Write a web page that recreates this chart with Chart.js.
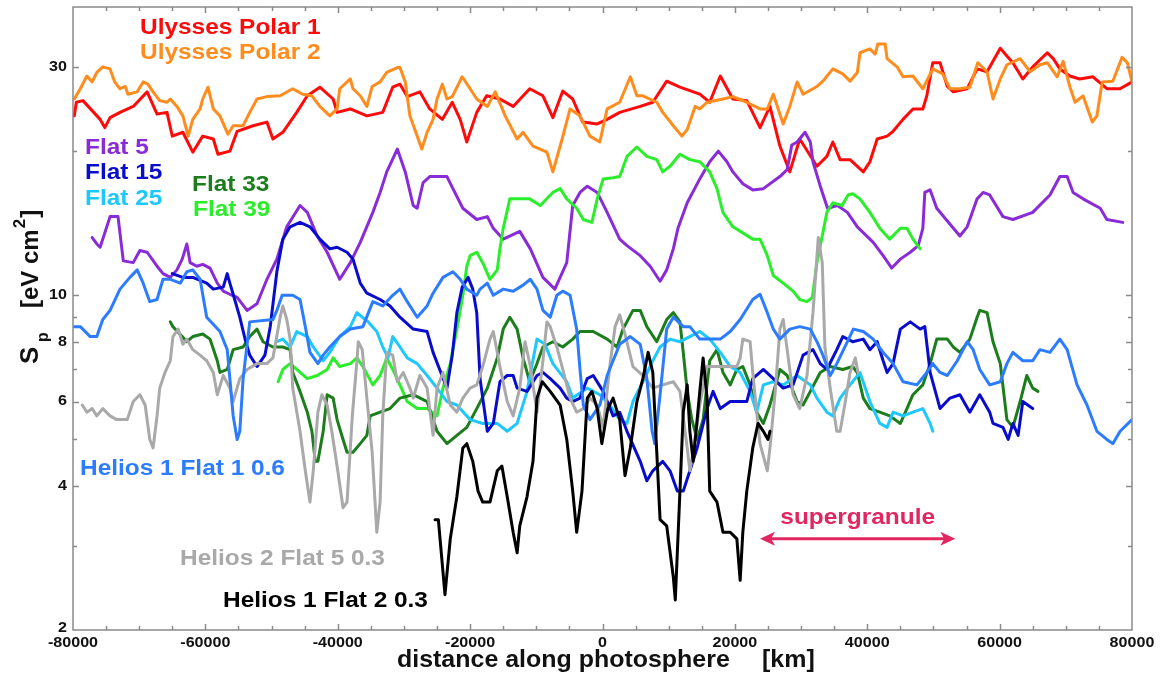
<!DOCTYPE html>
<html>
<head>
<meta charset="utf-8">
<script src="https://cdn.jsdelivr.net/npm/chart.js@4.4.1/dist/chart.umd.min.js"></script>
<style>
  html, body { margin: 0; background: #fff; }
  canvas { display: block; }
</style>
</head>
<body>
<canvas id="sp" width="1166" height="682"></canvas>
<script>
// distance along photosphere [km] and S_p [eV cm^2]

const ulysses1Km = [-79800,-79500,-78500,-75900,-75200,-74400,-72900,-70900,-68800,-67300,
  -65800,-65000,-63400,-61900,-60400,-58800,-58100,-56300,-55200,-52800,
  -50700,-49800,-48300,-46200,-44600,-42700,-40700,-40100,-38100,-35600,
  -33200,-31700,-30600,-29500,-27600,-26100,-24200,-22700,-21500,-20500,
  -19000,-17500,-15500,-13500,-11000,-9000,-7500,-6000,-4500,-3000,
  -800,700,2600,5700,7600,9700,11700,14700,16200,17800,
  19700,21800,23800,25300,26800,28300,29800,32400,33900,34800,
  35900,37400,39400,40400,41500,43000,43900,45400,46900,48400,
  49000,49900,51000,52100,53000,55100,56600,58100,60100,61100,
  62000,63500,65000,67200,68100,69100,70600,72100,74100,76200,
  78200,80000];
const ulysses1Sp = [23.7,25.3,25.5,23.3,22.4,23.5,24.1,24.8,26.6,23.9,
  24.1,21.5,21.9,19.9,21.5,21.2,19.7,20.0,22.0,22.6,
  23.0,21.2,21.9,24.1,26.1,27.2,25.7,24.1,24.5,23.7,
  24.1,27.2,27.6,26.0,26.6,24.5,23.3,25.3,23.3,20.9,
  24.1,26.1,25.7,24.8,27.0,26.1,23.5,26.7,25.7,23.0,
  22.8,23.3,24.1,24.8,25.3,28.0,27.2,26.3,25.3,28.7,
  25.7,25.5,22.4,24.8,20.5,18.1,21.2,18.6,19.5,20.9,
  19.2,19.2,18.1,19.0,21.2,21.5,22.0,23.3,24.5,24.5,
  26.1,30.6,30.6,27.3,26.6,27.0,29.7,29.3,32.8,31.6,
  30.6,28.3,30.0,32.1,31.2,29.7,28.7,28.3,28.6,27.0,
  27.0,27.9];

const ulysses2Km = [-79800,-78900,-77900,-77100,-76400,-75500,-74400,-73700,-72900,-72100,
  -71700,-70300,-69400,-68700,-67900,-66900,-65800,-65300,-64300,-63400,
  -62600,-61900,-60800,-60400,-59600,-58800,-57800,-56600,-55800,-54300,
  -53300,-52200,-50700,-48700,-46800,-45300,-43900,-42700,-41200,-40100,
  -39700,-38100,-37700,-36600,-35600,-34800,-33600,-32600,-31000,-30600,
  -29800,-29100,-27300,-26500,-25600,-25000,-24200,-23500,-22700,-21200,
  -20000,-19000,-17400,-16200,-14700,-12900,-12000,-10500,-8400,-7500,
  -6100,-4900,-3400,-1900,-400,700,2600,4200,5200,6100,
  8200,9100,10700,12000,12800,14000,14700,15800,18200,19700,
  21800,23800,24900,25800,27300,28300,29400,30300,32400,33300,
  34800,36300,37400,38500,38900,40400,41200,41600,42700,43000,
  44500,45400,46900,48400,49900,51400,52500,54000,55500,56700,
  58100,59000,60100,61100,63100,64600,66100,67200,68700,69600,
  70600,71400,72600,74000,74700,75500,77100,78500,79300,80000];
const ulysses2Sp = [25.7,27.0,28.7,27.9,29.2,30.0,29.7,27.9,27.0,27.3,
  26.3,26.6,27.9,27.6,26.6,25.5,25.3,25.7,24.8,23.7,
  21.5,23.3,24.5,25.7,27.2,24.5,23.7,21.7,22.6,22.6,
  24.1,25.7,26.0,26.1,27.0,26.3,26.1,24.8,23.7,24.5,
  27.0,28.3,27.0,26.1,24.8,27.3,27.9,29.2,29.9,29.9,
  27.9,23.7,20.2,21.9,23.3,25.7,27.6,25.7,26.0,28.6,
  27.0,25.7,24.8,26.6,23.7,21.2,21.9,20.5,19.9,18.1,
  21.2,24.5,23.7,21.5,20.9,24.5,25.3,28.6,26.1,26.1,
  25.3,24.1,22.6,21.5,22.2,24.8,24.5,25.3,25.7,26.0,
  25.3,24.5,24.5,26.3,22.8,24.8,27.9,26.3,27.3,28.0,
  29.7,29.0,28.0,29.2,32.1,32.7,31.9,33.5,33.5,31.2,
  30.0,28.6,28.7,27.0,29.7,29.0,27.0,27.0,27.2,30.6,
  29.3,25.7,28.3,30.3,31.2,29.3,30.3,30.6,28.6,30.8,
  27.3,25.3,26.1,23.0,23.7,27.9,28.0,31.4,30.6,27.9];

const flat5Km = [-77100,-76400,-75900,-74400,-73200,-72400,-70900,-69900,-68800,-67300,
  -66400,-65300,-64300,-63500,-62800,-62300,-61300,-60400,-59300,-58200,
  -57300,-56300,-55200,-53700,-52200,-50700,-49200,-47700,-45700,-44600,
  -43100,-41600,-39700,-38100,-36600,-34700,-33600,-32600,-31000,-29800,
  -28600,-28000,-27100,-26100,-23500,-22600,-21100,-19000,-17400,-16500,
  -15000,-12500,-10900,-9000,-7200,-5400,-4500,-3400,-2300,-800,
  700,2600,3700,5700,7200,8700,9700,10700,11400,12800,
  14700,16200,17500,18800,19700,21200,22700,24300,26800,27900,
  28600,29400,30600,31400,31800,32900,34000,35500,37000,38500,
  40900,42400,43700,45000,46500,47700,48400,48700,49500,50500,
  52100,54000,55100,56600,57500,58500,60500,62000,65000,67600,
  69100,70200,71100,72600,75200,76200,78600];
const flat5Sp = [13.2,12.8,12.6,14.6,14.6,11.8,11.7,12.4,12.3,11.5,
  11.1,10.9,11.3,11.9,12.8,11.7,11.5,11.6,11.4,10.6,
  10.2,10.05,9.9,9.3,9.6,10.8,11.9,13.9,15.4,14.9,
  13.3,12.3,10.8,11.7,12.9,14.9,16.4,18.1,20.2,18.1,
  15.4,15.2,17.2,17.7,17.7,16.7,15.2,14.4,14.6,13.8,
  13.1,13.6,12.5,10.9,10.3,11.7,15.4,16.4,16.9,16.4,
  14.9,13.1,12.7,12.1,11.5,10.7,11.3,12.5,13.8,15.6,
  17.5,19.0,20.0,19.0,18.1,17.1,16.6,16.7,17.7,18.3,
  20.6,20.9,21.9,20.9,19.0,16.9,15.2,15.4,14.9,13.9,
  12.9,12.1,11.4,11.9,12.3,12.7,13.8,16.4,16.6,15.2,
  14.3,13.3,13.9,15.9,16.4,16.2,14.6,14.4,14.9,16.2,
  17.7,17.7,16.4,15.9,15.2,14.4,14.2];

const flat15Km = [-65000,-63400,-61900,-59800,-58800,-57300,-56700,-56300,-55800,-54800,
  -54000,-53300,-52200,-51000,-50200,-49200,-48300,-47200,-45700,-44200,
  -42700,-41200,-40100,-38600,-37700,-36600,-35600,-33600,-32100,-30600,
  -28600,-26500,-25600,-24600,-23500,-22700,-22000,-21200,-20300,-19600,
  -19000,-18500,-17400,-16500,-15500,-14400,-13500,-12900,-11400,-9900,
  -9000,-7900,-6400,-5400,-4500,-3400,-2300,-1400,100,1600,
  2600,3700,5700,6700,7600,9100,10200,11300,12200,13200,
  14300,15800,16700,17800,19300,21800,22700,24300,25800,27300,
  28800,30300,31800,32900,33900,35400,36300,37800,39400,40400,
  41500,42400,43000,43900,45000,46500,48000,48700,49500,51000,
  52500,54000,55500,57000,58500,59000,60500,61300,62000,62800,
  63500,65000];
const flat15Sp = [11.1,10.9,10.9,10.6,10.3,10.4,11.1,10.6,10.05,9.0,
  8.1,7.5,7.1,7.5,8.6,11.2,13.1,13.9,14.2,13.9,
  13.1,12.5,12.6,12.3,11.9,10.6,10.1,9.8,9.5,9.0,
  8.5,8.4,7.6,7.0,6.4,7.5,9.2,10.4,10.9,10.3,
  9.2,6.7,5.2,5.4,6.6,6.8,6.8,6.4,6.3,6.8,
  6.9,6.7,6.4,6.1,6.0,6.1,6.7,6.8,6.3,5.6,
  5.7,5.2,4.5,4.1,4.3,4.5,4.3,3.9,3.9,4.3,
  4.8,5.8,6.3,5.8,6.0,6.0,6.7,7.0,6.7,6.4,
  6.5,7.5,7.7,7.2,7.0,7.7,8.2,8.0,8.1,7.7,
  8.0,7.3,6.9,7.2,8.5,8.8,8.5,8.6,6.9,5.8,
  6.1,6.2,5.7,6.2,5.7,5.4,5.3,5.0,5.4,5.1,
  6.0,5.8];

const flat25Km = [-49200,-48300,-47200,-46200,-44600,-43700,-42200,-41200,-39700,-38100,
  -37100,-36300,-35400,-34100,-33200,-32400,-31700,-30600,-29500,-28000,
  -26500,-25000,-23500,-22000,-20000,-18100,-15900,-14400,-12900,-11400,
  -9900,-8700,-7500,-5400,-4500,-2300,-400,1100,2600,3700,
  4600,6100,7600,8700,10200,11700,13200,14700,16200,17800,
  19300,20800,22300,23300,24300,25800,27300,29400,31400,32400,
  33900,34800,35900,37400,38900,40400,41900,43000,43900,45400,
  46900,48400,49500,49900];
const flat25Sp = [8.0,8.1,7.8,8.4,8.2,7.8,7.3,7.6,8.2,8.6,
  9.2,9.0,8.8,8.4,7.8,7.4,8.2,7.8,7.4,7.2,
  6.8,6.4,6.0,5.9,5.5,5.4,5.4,5.2,5.4,6.3,
  8.1,7.9,7.2,6.6,6.1,6.4,6.2,5.9,5.5,5.4,
  6.0,6.6,7.3,7.8,8.1,8.0,8.2,8.4,8.1,7.6,
  7.1,6.9,6.3,5.7,6.5,6.6,6.5,6.8,6.5,6.1,
  5.7,5.6,6.1,6.5,6.9,6.0,5.4,5.3,5.7,5.6,
  5.7,5.8,5.4,5.2];

const flat33Km = [-65300,-64900,-63500,-62800,-61900,-60400,-59300,-58200,-57800,-56700,
  -55800,-54300,-53300,-52200,-51300,-49800,-48300,-47200,-46800,-45700,
  -44600,-43900,-43400,-43000,-42200,-41600,-40700,-40100,-39200,-38600,
  -37700,-36600,-35600,-35100,-33600,-32100,-30600,-28600,-26500,-25000,
  -23500,-22000,-20500,-19000,-17400,-15900,-15000,-14000,-12900,-12000,
  -11000,-9900,-9000,-7500,-6000,-4500,-3400,-1400,700,2200,
  3100,4600,5700,6700,8200,9700,10700,11700,12200,12800,
  13500,14300,15200,16200,17300,18200,19300,20300,21200,22300,
  23300,24300,25300,26800,27900,29400,30300,31400,32900,34400,
  36300,37800,38500,39400,40400,41900,43400,45000,46000,46900,
  48400,49500,50500,52100,53000,54000,55500,56600,57000,58100,
  59000,60100,61100,62000,63100,64100,65000,65800];
const flat33Sp = [8.8,8.6,8.2,8.0,8.2,8.3,8.1,7.3,6.9,7.0,
  7.7,7.8,8.2,8.5,8.0,7.8,7.8,7.7,6.9,6.3,
  5.7,5.2,4.5,4.5,5.2,6.2,6.1,5.5,5.0,4.7,
  4.7,4.9,5.1,5.6,5.7,5.8,6.1,6.2,6.0,5.2,
  4.9,5.1,5.3,5.8,6.4,7.4,8.5,9.0,8.5,7.4,
  6.6,7.2,7.8,8.0,7.8,8.1,8.4,8.4,8.1,7.8,
  8.5,9.3,9.3,8.6,8.0,8.9,9.2,8.8,7.6,6.3,
  5.5,5.0,5.5,7.3,7.7,6.9,6.5,7.0,7.1,6.5,
  5.7,5.4,5.9,7.0,6.8,6.0,5.9,6.3,6.9,7.1,
  7.0,7.1,6.9,6.1,5.8,5.7,5.6,5.4,5.8,6.2,
  6.5,7.2,8.1,8.1,7.8,7.6,8.1,9.0,9.3,9.2,
  8.0,7.2,5.5,5.3,6.0,6.8,6.4,6.3];

const flat39Km = [-49000,-48300,-47200,-46200,-44600,-43100,-41600,-40700,-39700,-38100,
  -37100,-36200,-34700,-33600,-32600,-31700,-30600,-29500,-28000,-26500,
  -25000,-24100,-23000,-22000,-21100,-20500,-20000,-19000,-18100,-17000,
  -15900,-15500,-15000,-14000,-12500,-11000,-9400,-7500,-6400,-5400,
  -3900,-2900,-1600,-800,100,1600,2600,3700,5200,6700,
  8200,9100,10200,11700,13200,14700,16200,17300,18200,19700,
  21200,22700,23800,24900,25800,27300,28800,29800,30900,31700,
  32400,33200,33900,34800,36200,37100,37800,38900,40400,41900,
  43400,45000,46000,46900,48000];
const flat39Sp = [6.6,7.0,7.2,7.0,6.7,6.8,7.0,7.4,7.1,7.2,
  7.4,7.1,6.5,6.8,7.4,7.0,6.5,6.0,5.8,5.8,
  5.6,6.4,7.2,8.5,10.0,11.5,12.1,12.3,11.7,10.8,
  11.3,12.5,13.8,15.9,15.9,15.9,15.4,16.4,16.7,15.9,
  15.2,14.4,14.2,15.9,17.5,17.6,17.7,19.5,20.4,19.5,
  19.2,18.1,18.6,19.7,19.2,19.0,18.1,16.7,14.9,13.9,
  13.5,13.1,13.1,12.1,11.0,10.6,10.2,9.8,9.7,9.9,
  11.7,13.3,14.9,15.6,15.4,16.2,16.3,15.9,14.9,13.8,
  13.1,13.8,13.8,13.1,12.5];

const helios1f1Km = [-79800,-78900,-77400,-76400,-75500,-74400,-72900,-71400,-70300,-69400,
  -68400,-67300,-66400,-65300,-63800,-62800,-61900,-60800,-59800,-57800,
  -56700,-56300,-55800,-55200,-54800,-54300,-53300,-49800,-49200,-48400,
  -46800,-45700,-44900,-44200,-43000,-42200,-41200,-39700,-38100,-36200,
  -34700,-33200,-31700,-30600,-29500,-28000,-26500,-25600,-24100,-22600,
  -21500,-20500,-19000,-18500,-17400,-16500,-15000,-13500,-12000,-10900,
  -9900,-9000,-7900,-6900,-6000,-4900,-3900,-3400,-2900,-1900,
  -400,700,1600,2600,4200,5700,6700,7500,7900,8700,
  9700,10700,12200,13200,14700,17800,19300,20800,22700,23800,
  24900,25800,26800,28300,29800,31400,32400,33300,34400,35400,
  37000,37900,39400,40900,42400,43900,45400,47500,49000,49900,
  51000,52100,53600,55100,56000,57000,58500,60100,61100,62000,
  63500,65000,66100,67600,69100,70200,71700,73200,74700,76200,
  77100,78200,80000];
const helios1f1Sp = [8.6,8.6,8.2,8.2,8.9,9.3,10.3,10.9,11.3,10.6,
  9.7,9.8,10.8,10.8,10.6,11.2,11.3,10.8,9.0,8.4,
  7.7,6.7,5.6,5.0,5.2,6.7,8.8,8.9,9.3,10.0,
  10.0,9.8,8.6,7.6,7.2,7.5,7.8,8.2,8.5,8.6,
  9.7,9.5,10.0,10.3,9.7,9.0,9.5,10.1,10.9,11.2,
  10.8,10.3,10.0,10.3,10.6,10.0,10.3,10.2,10.5,10.8,
  10.3,9.3,9.0,10.0,10.2,10.0,8.5,7.0,5.9,5.5,
  5.9,6.8,7.3,7.9,8.2,7.9,6.7,5.2,4.9,6.2,
  8.5,9.0,8.6,8.6,8.1,8.1,8.4,8.9,9.8,10.05,
  9.2,8.5,8.1,8.5,8.6,8.5,8.0,7.5,6.8,7.2,
  8.0,8.5,8.4,8.1,7.6,7.2,6.6,6.5,6.9,7.2,
  6.9,6.8,7.3,8.0,7.7,7.0,6.5,6.6,7.2,7.6,
  7.3,7.3,7.7,7.6,8.1,7.7,6.5,5.9,5.2,5.0,
  4.9,5.2,5.5];

const helios2f5Km = [-78600,-77900,-77100,-76400,-75500,-74400,-73400,-71800,-70900,-69900,
  -69100,-68400,-67900,-67300,-66900,-66100,-65300,-64900,-64100,-63400,
  -62800,-61900,-60800,-59800,-58800,-58200,-57300,-56300,-55800,-54800,
  -53700,-52200,-50700,-49800,-48700,-48300,-47700,-47200,-46800,-45700,
  -44900,-44200,-43700,-43000,-42400,-41600,-40900,-40100,-39200,-38600,
  -37800,-37100,-36900,-36300,-35600,-34800,-34100,-33600,-33200,-32600,
  -31700,-31000,-30100,-29100,-28600,-27600,-26500,-25600,-25000,-24100,
  -23000,-22000,-21100,-20000,-19000,-18100,-17000,-16500,-15500,-14400,
  -13500,-12500,-11700,-10900,-9900,-9000,-8400,-7900,-6900,-6000,
  -4900,-3900,-2900,-1900,-800,100,1100,1900,2600,3400,
  4600,6100,7600,9100,10700,11700,12800,13200,13700,14700,
  15800,20300,20800,21200,22300,22700,23300,23800,24900,25300,
  26100,26800,27300,27900,28800,29800,30900,31800,32600,33200,
  33600,34400,35400,35900,36600,37400,38200,38600];
const helios2f5Sp = [5.9,5.7,5.8,5.6,5.8,5.6,5.5,5.5,6.0,6.2,
  5.9,5.0,4.8,5.6,6.4,6.9,7.3,8.2,8.5,7.9,
  8.1,7.7,7.5,7.3,6.9,6.2,6.8,6.4,6.0,6.7,
  7.0,7.2,7.2,7.4,9.0,9.5,8.9,8.1,6.4,5.2,
  4.3,3.7,4.3,5.7,6.2,5.9,5.2,4.4,3.6,3.7,
  5.6,7.3,8.0,7.7,6.1,4.7,3.2,3.7,5.6,7.6,
  7.5,6.6,6.9,6.4,6.1,6.8,6.4,5.1,6.4,6.9,
  5.9,5.7,6.1,6.4,6.5,7.1,8.1,8.4,7.1,6.0,
  5.6,6.4,8.0,7.1,5.7,7.3,8.8,8.6,7.8,7.0,
  6.1,5.7,5.8,6.1,5.9,5.3,7.1,8.6,9.1,8.3,
  7.1,6.8,6.4,6.5,6.6,6.3,4.8,4.3,4.7,5.9,
  7.1,7.1,7.4,8.1,8.0,6.9,5.7,4.9,4.3,4.8,
  6.3,8.5,8.9,7.7,6.2,5.8,6.8,9.2,13.2,11.7,
  7.8,6.4,5.2,5.2,5.9,6.9,7.4,6.9];

const helios1f2Km = [-25300,-24800,-23800,-23000,-22000,-21100,-20500,-19600,-18800,-18100,
  -17000,-15900,-15200,-14400,-13500,-12900,-12500,-11400,-10500,-9900,
  -9100,-7900,-6400,-5400,-4500,-3900,-3100,-2300,-1600,-800,
  -100,800,1600,2600,3400,4200,5200,6100,6900,7600,
  8200,8700,9700,10700,11000,11700,12200,12800,13200,13700,
  14700,15200,15800,16200,17300,18200,19300,20300,20800,21200,
  21800,22700,23500,24300,25000,25300];
const helios1f2Sp = [3.4,3.4,2.37,3.1,3.8,4.8,4.9,4.5,3.9,3.7,
  3.7,4.3,4.4,3.8,3.2,2.9,3.3,3.8,4.5,6.1,
  6.6,6.3,5.9,5.0,3.9,3.2,3.9,6.1,6.3,5.8,
  4.9,5.8,6.1,5.5,4.2,4.8,6.0,6.7,7.6,6.9,
  4.7,3.4,3.3,2.58,2.31,3.9,5.7,6.5,5.2,4.5,
  6.3,7.4,6.1,3.9,3.7,3.2,3.2,3.1,2.54,3.2,
  3.9,4.8,5.4,5.2,5.0,5.2];

// supergranule size marker (km span, drawn at S_p level)
const supergranuleKm = [23800, 53300];
const supergranuleSp = 3.1;

// axes
const xLabelTicks = [-80000,-60000,-40000,-20000,0,20000,40000,60000,80000];
const yLabelTicks = [2,4,6,8,10,30];
const yMinorTicks = [3,5,7,9,20];

const FONT = '"Liberation Sans", Arial, Helvetica, sans-serif';

const series = [
  {name:'Helios 1 Flat 2 0.3', km:helios1f2Km, sp:helios1f2Sp, color:'#000000', lx:223, ly:601},
  {name:'Helios 1 Flat 1 0.6', km:helios1f1Km, sp:helios1f1Sp, color:'#2b7cff', lx:80, ly:469},
  {name:'Helios 2 Flat 5 0.3', km:helios2f5Km, sp:helios2f5Sp, color:'#a9a9a9', lx:180, ly:559},
  {name:'Flat 15', km:flat15Km, sp:flat15Sp, color:'#0a0ccc', lx:85, ly:173},
  {name:'Flat 25', km:flat25Km, sp:flat25Sp, color:'#1ec8ff', lx:85, ly:199},
  {name:'Flat 33', km:flat33Km, sp:flat33Sp, color:'#1b7d1b', lx:192, ly:185},
  {name:'Flat 39', km:flat39Km, sp:flat39Sp, color:'#2aee2a', lx:193, ly:210},
  {name:'Flat 5', km:flat5Km, sp:flat5Sp, color:'#8a2bd8', lx:85, ly:148},
  {name:'Ulysses Polar 2', km:ulysses2Km, sp:ulysses2Sp, color:'#ff8c1c', lx:140, ly:53},
  {name:'Ulysses Polar 1', km:ulysses1Km, sp:ulysses1Sp, color:'#ff0a0a', lx:140, ly:28}
];

function txt(ctx, s, x, y, size, color, align, sx, base) {
  ctx.save();
  ctx.font = 'bold ' + size + 'px ' + FONT;
  ctx.fillStyle = color;
  ctx.textAlign = align || 'left';
  ctx.textBaseline = base || 'middle';
  ctx.translate(x, y);
  ctx.scale(sx || 1, 1);
  ctx.fillText(s, 0, 0);
  ctx.restore();
}

const decor = {
  id: 'decor',
  afterDraw(chart) {
    const ctx = chart.ctx;
    const a = chart.chartArea;
    const xs = chart.scales.x, ys = chart.scales.y;

    // frame
    ctx.save();
    ctx.strokeStyle = '#8a8a8a';
    ctx.lineWidth = 1.5;
    ctx.strokeRect(a.left, a.top, a.right - a.left, a.bottom - a.top);

    // x ticks every 5000 km, bottom and top
    ctx.beginPath();
    for (let k = -75000; k <= 75000; k += 5000) {
      const px = Math.round(xs.getPixelForValue(k)) + 0.5;
      const len = k % 20000 === 0 ? 6 : 4;
      ctx.moveTo(px, a.bottom); ctx.lineTo(px, a.bottom - len);
      ctx.moveTo(px, a.top); ctx.lineTo(px, a.top + len);
    }
    // y ticks, left and right
    yLabelTicks.concat(yMinorTicks).forEach(v => {
      if (v <= 2) return;
      const py = Math.round(ys.getPixelForValue(v)) + 0.5;
      const len = yLabelTicks.includes(v) ? 6 : 4;
      ctx.moveTo(a.left, py); ctx.lineTo(a.left + len, py);
      ctx.moveTo(a.right, py); ctx.lineTo(a.right - len, py);
    });
    ctx.stroke();
    ctx.restore();

    // tick labels
    xLabelTicks.forEach(v => {
      txt(ctx, String(v), xs.getPixelForValue(v), a.bottom + 13, 14, '#111', 'center', 1.15);
    });
    yLabelTicks.forEach(v => {
      txt(ctx, String(v), a.left - 6, ys.getPixelForValue(v) - (v === 2 ? 2 : 0), 14, '#111', 'right', 1.15);
    });

    // axis titles
    txt(ctx, 'distance along photosphere', 397, 667, 24, '#111', 'left', 1.04, 'alphabetic');
    txt(ctx, '[km]', 762, 667, 24, '#111', 'left', 1.04, 'alphabetic');

    ctx.save();
    ctx.translate(38, 364);
    ctx.rotate(-Math.PI / 2);
    ctx.fillStyle = '#111';
    ctx.textBaseline = 'alphabetic';
    ctx.textAlign = 'left';
    ctx.font = 'bold 26px ' + FONT;
    ctx.fillText('S', 0, 0);
    ctx.font = 'bold 16px ' + FONT;
    ctx.fillText('p', 22, 10);
    ctx.font = 'bold 24px ' + FONT;
    ctx.fillText('[eV cm', 56, 0);
    let u = 56 + ctx.measureText('[eV cm').width;
    ctx.font = 'bold 17px ' + FONT;
    ctx.fillText('2', u + 1, -13);
    u += 1 + ctx.measureText('2').width;
    ctx.font = 'bold 24px ' + FONT;
    ctx.fillText(']', u + 1, 0);
    ctx.restore();

    // series names
    series.forEach(s => txt(ctx, s.name, s.lx, s.ly, 22, s.color, 'left', 1.11));

    // supergranule arrow
    const x0 = xs.getPixelForValue(supergranuleKm[0]);
    const x1 = xs.getPixelForValue(supergranuleKm[1]);
    const yA = ys.getPixelForValue(supergranuleSp);
    const col = '#e2265f';
    ctx.save();
    ctx.strokeStyle = col; ctx.fillStyle = col; ctx.lineWidth = 3;
    ctx.beginPath(); ctx.moveTo(x0 + 8, yA); ctx.lineTo(x1 - 8, yA); ctx.stroke();
    [[x0, 1], [x1, -1]].forEach(([tx, d]) => {
      ctx.beginPath();
      ctx.moveTo(tx, yA);
      ctx.lineTo(tx + d * 15, yA - 7);
      ctx.lineTo(tx + d * 11, yA);
      ctx.lineTo(tx + d * 15, yA + 7);
      ctx.closePath();
      ctx.fill();
    });
    ctx.restore();
    txt(ctx, 'supergranule', (x0 + x1) / 2, yA - 21, 22, col, 'center', 1.11);
  }
};

new Chart(document.getElementById('sp'), {
  type: 'line',
  data: {
    datasets: series.map(s => ({
      label: s.name,
      data: s.km.map((k, i) => ({ x: k, y: s.sp[i] })),
      borderColor: s.color,
      borderWidth: 3,
      pointRadius: 0,
      tension: 0,
      fill: false
    }))
  },
  options: {
    responsive: false,
    animation: false,
    devicePixelRatio: 1,
    layout: { padding: { left: 73, top: 7, right: 34, bottom: 52 } },
    elements: { line: { borderJoinStyle: 'round', borderCapStyle: 'round' } },
    plugins: { legend: { display: false }, tooltip: { enabled: false } },
    scales: {
      x: { type: 'linear', min: -80000, max: 80000, display: false },
      y: { type: 'logarithmic', min: 2, max: 40, display: false }
    }
  },
  plugins: [decor]
});
</script>
</body>
</html>
